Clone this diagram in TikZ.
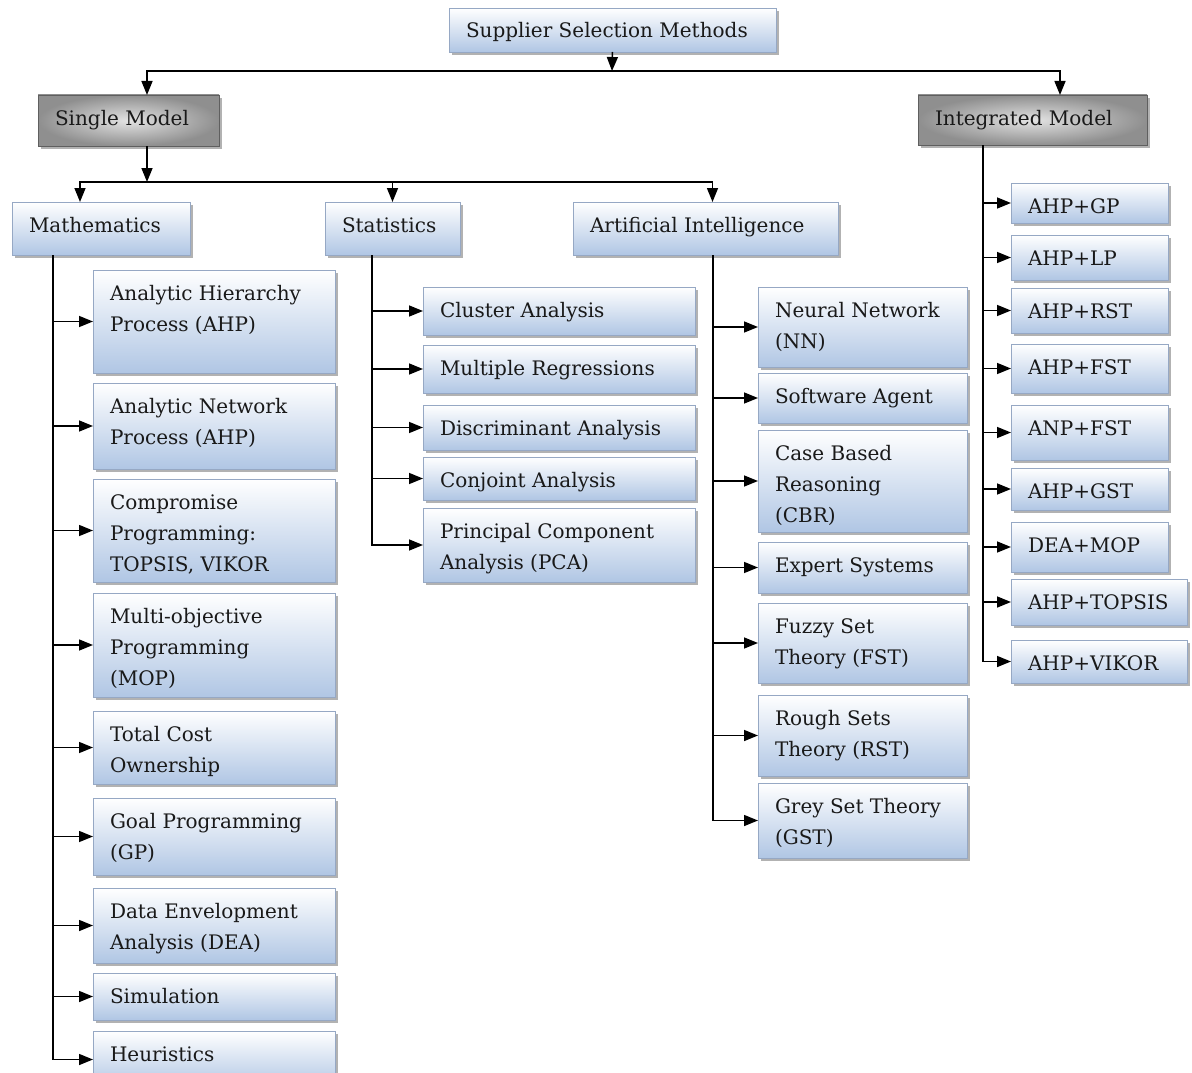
\documentclass[tikz,border=0pt]{standalone}
\usepackage{fontspec}
\setmainfont{DejaVu Serif}
\usetikzlibrary{arrows.meta,shadows}
\definecolor{boxblue}{RGB}{176,198,228}
\definecolor{boxedge}{RGB}{150,168,196}
\definecolor{darkedge}{RGB}{95,95,95}
\tikzset{
  bbox/.style={draw=boxedge, line width=0.8pt, top color=white, bottom color=boxblue,
    inner sep=0pt, outer sep=0pt,
    drop shadow={shadow xshift=3pt, shadow yshift=-3pt, fill=black, opacity=0.3}},
  dbox/.style={draw=darkedge, line width=0.8pt, inner color=gray!22, outer color=gray!88,
    inner sep=0pt, outer sep=0pt,
    drop shadow={shadow xshift=3pt, shadow yshift=-3pt, fill=black, opacity=0.3}},
  btext/.style={anchor=north west, inner sep=0pt, outer sep=0pt, align=left,
    font=\fontsize{20}{31}\selectfont, text=black!90},
  conn/.style={line width=1.5pt, black},
  arr/.style={conn, -{Triangle[length=14pt,width=11pt]}},
}
% #1 style, #2 name, #3 x1, #4 y1, #5 x2, #6 y2, #7 text
\newcommand{\bbx}[7][bbox]{%
  \node[#1, minimum width={#5-#3}, minimum height={#6-#4}] (#2) at ({(#3+#5)/2},{(#4+#6)/2}) {};
  \node[btext] (#2t) at ([xshift=17pt,yshift=-14pt]#2.north west) {\rule{0pt}{16pt}#7};
}
\begin{document}
\begin{tikzpicture}[x=1pt,y=-1pt]
\useasboundingbox (0,0) rectangle (1192,1073);
\fill[white] (0,0) rectangle (1192,1073);

% top level
\bbx{ssm}{449}{8}{776}{52}{Supplier Selection Methods}
\bbx[dbox]{single}{38}{95}{219}{146}{Single Model}
\bbx[dbox]{integ}{918}{95}{1147}{145}{Integrated Model}

% second level
\bbx{math}{12}{202}{190}{255}{Mathematics}
\bbx{stats}{325}{202}{460}{255}{Statistics}
\bbx{ai}{573}{202}{838}{255}{Artificial Intelligence}

% mathematics children
\bbx{ahp}{93}{270}{335}{373}{Analytic Hierarchy\\Process (AHP)}
\bbx{anp}{93}{383}{335}{469}{Analytic Network\\Process (AHP)}
\bbx{comp}{93}{479}{335}{582}{Compromise\\Programming:\\TOPSIS, VIKOR}
\bbx{mop}{93}{593}{335}{697}{Multi-objective\\Programming\\(MOP)}
\bbx{tco}{93}{711}{335}{784}{Total Cost\\Ownership}
\bbx{gp}{93}{798}{335}{875}{Goal Programming\\(GP)}
\bbx{dea}{93}{888}{335}{963}{Data Envelopment\\Analysis (DEA)}
\bbx{sim}{93}{973}{335}{1020}{Simulation}
\bbx{heur}{93}{1031}{335}{1088}{Heuristics}

% statistics children
\bbx{clu}{423}{287}{695}{335}{Cluster Analysis}
\bbx{mr}{423}{345}{695}{393}{Multiple Regressions}
\bbx{da}{423}{405}{695}{450}{Discriminant Analysis}
\bbx{ca}{423}{457}{695}{500}{Conjoint Analysis}
\bbx{pca}{423}{508}{695}{582}{Principal Component\\Analysis (PCA)}

% AI children
\bbx{nn}{758}{287}{967}{367}{Neural Network\\(NN)}
\bbx{sa}{758}{373}{967}{423}{Software Agent}
\bbx{cbr}{758}{430}{967}{532}{Case Based\\Reasoning\\(CBR)}
\bbx{es}{758}{542}{967}{593}{Expert Systems}
\bbx{fst}{758}{603}{967}{683}{Fuzzy Set\\Theory (FST)}
\bbx{rst}{758}{695}{967}{776}{Rough Sets\\Theory (RST)}
\bbx{gst}{758}{783}{967}{858}{Grey Set Theory\\(GST)}

% integrated children
\bbx{ia}{1011}{183}{1168}{223}{AHP+GP}
\bbx{ib}{1011}{235}{1168}{280}{AHP+LP}
\bbx{ic}{1011}{288}{1168}{333}{AHP+RST}
\bbx{id}{1011}{344}{1168}{393}{AHP+FST}
\bbx{ie}{1011}{405}{1168}{460}{ANP+FST}
\bbx{if}{1011}{468}{1168}{510}{AHP+GST}
\bbx{ig}{1011}{522}{1168}{572}{DEA+MOP}
\bbx{ih}{1011}{579}{1187}{625}{AHP+TOPSIS}
\bbx{ii}{1011}{640}{1187}{683}{AHP+VIKOR}

% connectors: top level
\coordinate (hl) at (612,71);
\draw[arr] (ssm.south) -- (hl);
\draw[arr] (hl) -| ([xshift=18.5pt]single.north);
\draw[arr] (hl) -| ([xshift=27.5pt]integ.north);

% connectors: single model to categories
\coordinate (hl2) at (147,182);
\draw[arr] ([xshift=18.5pt]single.south) -- (hl2);
\draw[arr] (hl2) -| ([xshift=-21pt]math.north);
\draw[arr] (hl2) -| (stats.north);
\draw[arr] (hl2) -| ([xshift=7pt]ai.north);

% mathematics trunk
\coordinate (mt) at ([xshift=41pt]math.south west);
\draw[arr] (mt) |- (heur.west);
\foreach \n in {ahp,anp,comp,mop,tco,gp,dea,sim}
  \draw[arr] (mt |- \n.west) -- (\n.west);

% statistics trunk
\coordinate (st) at ([xshift=47pt]stats.south west);
\draw[arr] (st) |- (pca.west);
\foreach \n in {clu,mr,da,ca}
  \draw[arr] (st |- \n.west) -- (\n.west);

% AI trunk
\coordinate (at) at ([xshift=140pt]ai.south west);
\draw[arr] (at) |- (gst.west);
\foreach \n in {nn,sa,cbr,es,fst,rst}
  \draw[arr] (at |- \n.west) -- (\n.west);

% integrated trunk
\coordinate (it) at ([xshift=65pt]integ.south west);
\draw[arr] (it) |- (ii.west);
\foreach \n in {ia,ib,ic,id,ie,if,ig,ih}
  \draw[arr] (it |- \n.west) -- (\n.west);
\end{tikzpicture}
\end{document}
